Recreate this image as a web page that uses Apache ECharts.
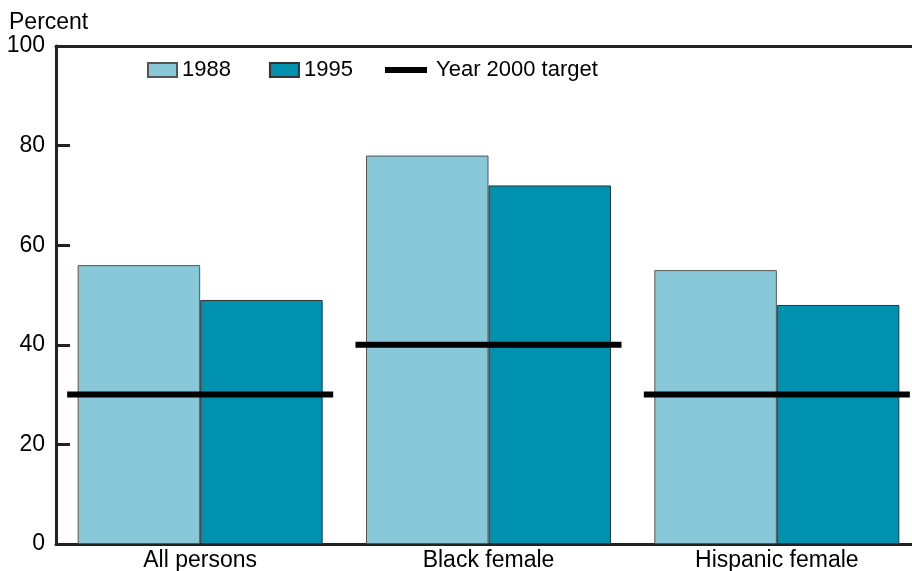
<!DOCTYPE html>
<html>
<head>
<meta charset="utf-8">
<script src="https://cdn.jsdelivr.net/npm/echarts@6/dist/echarts.min.js"></script>
<style>
html, body { margin: 0; padding: 0; background: #fff; }
#main { width: 912px; height: 571px; }
</style>
</head>
<body>
<div id="main"></div>
<script>
// 数据
var categories = ['All persons', 'Black female', 'Hispanic female'];
var values1988 = [56, 78, 55];
var values1995 = [49, 72, 48];
var target2000 = [30, 40, 30];
var yTicks = [0, 20, 40, 60, 80, 100];

var font = 'Liberation Sans, Arial, Helvetica, sans-serif';
var myChart = echarts.init(document.getElementById('main'));

myChart.setOption({
	animation : false,
	backgroundColor : '#fff',
	title : {
		text : 'Percent',
		left : 4,
		top : 6,
		textStyle : { fontFamily : font, fontSize : 23, fontWeight : 'normal', color : '#000' }
	},
	legend : [{
		data : ['1988', '1995'],
		left : 147,
		top : 59,
		padding : 0,
		itemWidth : 29,
		itemHeight : 14,
		itemGap : 38,
		icon : 'rect',
		textStyle : { fontFamily : font, fontSize : 22, color : '#000' }
	}, {
		data : [{ name : 'Year 2000 target', icon : 'rect', itemStyle : { color : '#000', borderWidth : 0, opacity : 1 } }],
		left : 385,
		top : 59,
		padding : 0,
		itemWidth : 42,
		itemHeight : 6,
		textStyle : { fontFamily : font, fontSize : 22, color : '#000', padding : [0, 0, 0, 4] }
	}],
	grid : {
		left : 56,
		width : 865,
		top : 46,
		bottom : 27,
		containLabel : false,
		outerBoundsMode : 'none'
	},
	xAxis : [{
		type : 'category',
		data : categories,
		axisLine : { lineStyle : { color : '#222', width : 3 } },
		axisTick : { show : false },
		axisLabel : { fontFamily : font, fontSize : 23, color : '#000', margin : 5 }
	}, {
		type : 'category',
		position : 'top',
		data : categories,
		axisLine : { lineStyle : { color : '#222', width : 3 } },
		axisTick : { show : false },
		axisLabel : { show : false }
	}],
	yAxis : {
		type : 'value',
		min : yTicks[0],
		max : yTicks[yTicks.length - 1],
		interval : 20,
		axisLine : { show : true, lineStyle : { color : '#222', width : 3 } },
		axisTick : { show : true, inside : true, length : 14, lineStyle : { color : '#222', width : 3 } },
		splitLine : { show : false },
		axisLabel : { fontFamily : font, fontSize : 23, color : '#000', margin : 11 }
	},
	series : [{
		name : '1988',
		type : 'bar',
		data : values1988,
		barWidth : 122.5,
		barGap : '0%',
		itemStyle : { color : '#89C8D8', borderColor : '#555', borderWidth : 1 }
	}, {
		name : '1995',
		type : 'bar',
		data : values1995,
		barWidth : 122.5,
		itemStyle : { color : '#0091AF', borderColor : '#333', borderWidth : 1 }
	}, {
		name : 'Year 2000 target',
		type : 'scatter',
		data : target2000,
		symbol : 'rect',
		symbolSize : [266, 6],
		z : 5,
		itemStyle : { color : '#000', opacity : 1 }
	}]
});
</script>
</body>
</html>
